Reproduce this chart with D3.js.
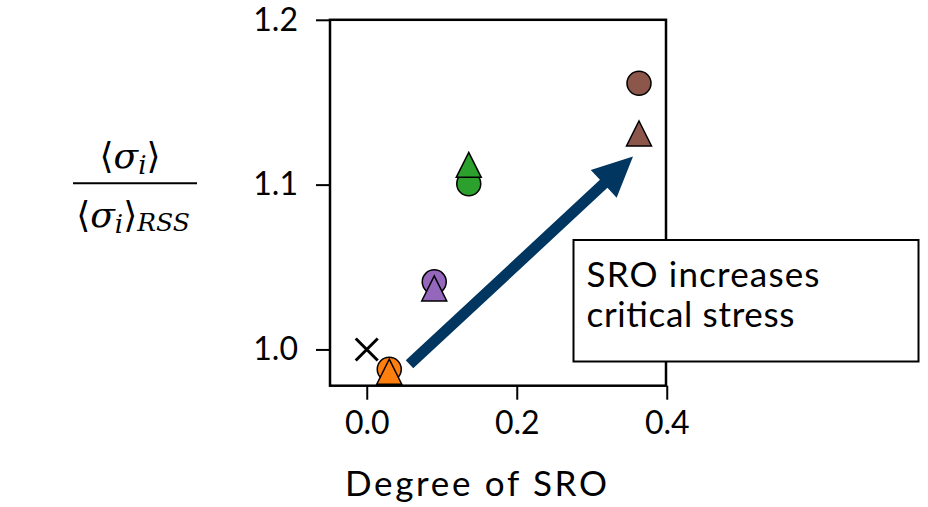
<!DOCTYPE html>
<html>
<head>
<meta charset="utf-8">
<script src="https://cdn.jsdelivr.net/npm/d3@7"></script>
<style>
  body { margin: 0; background: #fff; }
  svg text { font-family: Lato, "Open Sans", sans-serif; fill: #000; }
</style>
</head>
<body>
<div id="chart"></div>
<script>
// values
var circleX = [0.030, 0.090, 0.136, 0.363];
var circleY = [0.988, 1.041, 1.1005, 1.1615];
var triX = [0.030, 0.090, 0.136, 0.363];
var triY = [0.9865, 1.037, 1.112, 1.131];
var colors = ['#ff7f0e', '#9467bd', '#2ca02c', '#8c564b'];
var refPoint = [0, 1.0];
var xTicks = [0.0, 0.2, 0.4];
var yTicks = [1.0, 1.1, 1.2];
var arrowFrom = [0.057, 0.991];
var arrowTo = [0.355, 1.117];
var boxLines = ['SRO increases', 'critical stress'];
var boxLineWidths = [233, 208];

var W = 928, H = 507;
var svg = d3.select('#chart').append('svg')
	.attr('width', W).attr('height', H);

var x = d3.scaleLinear().domain([-0.049, 0.4]).range([330, 666.75]);
var y = d3.scaleLinear().domain([0.978, 1.2]).range([385.7, 19.8]);

// axes
var gx = svg.append('g')
	.attr('transform', 'translate(0,' + y.range()[0] + ')')
	.call(d3.axisBottom(x).tickValues(xTicks).tickFormat(d3.format('.1f')).tickSize(14).tickPadding(4));
var gy = svg.append('g')
	.attr('transform', 'translate(' + x.range()[0] + ',0)')
	.call(d3.axisLeft(y).tickValues(yTicks).tickFormat(d3.format('.1f')).tickSize(14).tickPadding(18));
[gx, gy].forEach(function(g){
	g.select('.domain').remove();
	g.selectAll('line').attr('stroke', '#000').attr('stroke-width', 2);
	g.selectAll('text').style('font-size', '32px').attr('fill', '#000');
});
gx.selectAll('text').attr('dy', '0.95em');

// frame
svg.append('rect')
	.attr('x', 330).attr('y', 19.8)
	.attr('width', 666 - 330).attr('height', 385.7 - 19.8)
	.attr('fill', 'none').attr('stroke', '#000').attr('stroke-width', 2.5);

// reference cross
var cx0 = x(refPoint[0]), cy0 = y(refPoint[1]), k = 11;
svg.append('path')
	.attr('d', 'M' + (cx0 - k) + ',' + (cy0 - k) + 'L' + (cx0 + k) + ',' + (cy0 + k) +
		'M' + (cx0 - k) + ',' + (cy0 + k) + 'L' + (cx0 + k) + ',' + (cy0 - k))
	.attr('stroke', '#000').attr('stroke-width', 3).attr('fill', 'none');

// circles then triangles on top
svg.append('g').selectAll('circle')
	.data(circleX).enter().append('circle')
	.attr('cx', function(d){ return x(d); })
	.attr('cy', function(d, i){ return y(circleY[i]); })
	.attr('r', 12)
	.attr('fill', function(d, i){ return colors[i]; })
	.attr('stroke', '#000').attr('stroke-width', 1.5);

var s = 12.5;
svg.append('g').selectAll('path')
	.data(triX).enter().append('path')
	.attr('d', function(d, i){
		var px = x(d), py = y(triY[i]);
		return 'M' + px + ',' + (py - s) + 'L' + (px + s) + ',' + (py + s) + 'L' + (px - s) + ',' + (py + s) + 'Z';
	})
	.attr('fill', function(d, i){ return colors[i]; })
	.attr('stroke', '#000').attr('stroke-width', 1.5).attr('stroke-linejoin', 'miter');

// big arrow
function arrowPath(p0, p1, shaft, head, headLen){
	var dx = p1[0] - p0[0], dy = p1[1] - p0[1];
	var L = Math.sqrt(dx * dx + dy * dy);
	var ux = dx / L, uy = dy / L, nx = -uy, ny = ux;
	var bx = p1[0] - ux * headLen, by = p1[1] - uy * headLen;
	var pts = [
		[p0[0] + nx * shaft / 2, p0[1] + ny * shaft / 2],
		[bx + nx * shaft / 2, by + ny * shaft / 2],
		[bx + nx * head / 2, by + ny * head / 2],
		p1,
		[bx - nx * head / 2, by - ny * head / 2],
		[bx - nx * shaft / 2, by - ny * shaft / 2],
		[p0[0] - nx * shaft / 2, p0[1] - ny * shaft / 2]
	];
	return 'M' + pts.map(function(p){ return p[0] + ',' + p[1]; }).join('L') + 'Z';
}
svg.append('path')
	.attr('d', arrowPath([x(arrowFrom[0]), y(arrowFrom[1])], [x(arrowTo[0]), y(arrowTo[1])], 11, 38, 40))
	.attr('fill', '#003660');

// text box
svg.append('rect')
	.attr('x', 573.5).attr('y', 240)
	.attr('width', 345).attr('height', 121.5)
	.attr('fill', '#fff').attr('stroke', '#000').attr('stroke-width', 2);
svg.append('g').selectAll('text')
	.data(boxLines).enter().append('text')
	.attr('x', 586.5)
	.attr('y', function(d, i){ return 287 + i * 40; })
	.attr('textLength', function(d, i){ return boxLineWidths[i]; })
	.attr('lengthAdjust', 'spacing')
	.style('font-size', '35px')
	.text(function(d){ return d; });

// x label
svg.append('text')
	.attr('x', 345).attr('y', 496)
	.attr('textLength', 262).attr('lengthAdjust', 'spacing')
	.style('font-size', '35px')
	.text('Degree of SRO');

// y label as a fraction
var mathFont = '"DejaVu Serif", "DejaVu Sans", serif';
var num = svg.append('text')
	.attr('x', 130).attr('y', 168)
	.attr('text-anchor', 'middle')
	.style('font-family', mathFont).style('font-size', '36px');
num.append('tspan').text('\u27E8');
num.append('tspan').style('font-style', 'italic').text('\u03C3');
num.append('tspan').style('font-style', 'italic').style('font-size', '26px').attr('dy', 6).text('i');
num.append('tspan').attr('dy', -6).text('\u27E9');

svg.append('line')
	.attr('x1', 73).attr('x2', 197)
	.attr('y1', 183.3).attr('y2', 183.3)
	.attr('stroke', '#000').attr('stroke-width', 2);

var den = svg.append('text')
	.attr('x', 133).attr('y', 227)
	.attr('text-anchor', 'middle')
	.style('font-family', mathFont).style('font-size', '36px');
den.append('tspan').text('\u27E8');
den.append('tspan').style('font-style', 'italic').text('\u03C3');
den.append('tspan').style('font-style', 'italic').style('font-size', '26px').attr('dy', 6).text('i');
den.append('tspan').attr('dy', -6).text('\u27E9');
den.append('tspan').style('font-style', 'italic').style('font-size', '25px').attr('dy', 4).text('RSS');
</script>
</body>
</html>
